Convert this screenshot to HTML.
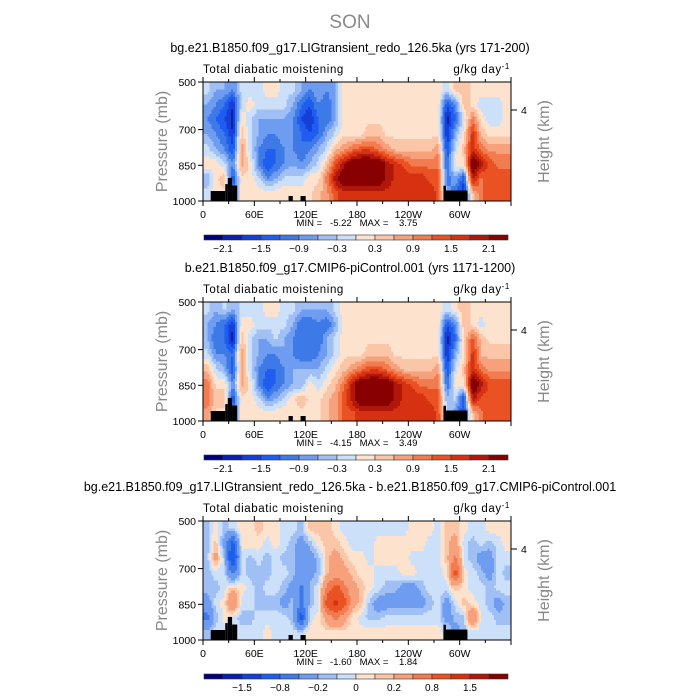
<!DOCTYPE html>
<html><head><meta charset="utf-8"><style>
html,body{margin:0;padding:0;background:#fff;}
svg{display:block;font-family:"Liberation Sans",sans-serif;}
</style></head><body>
<svg id="fig" width="700" height="700" viewBox="0 0 700 700" xmlns="http://www.w3.org/2000/svg">
<text x="350" y="28" text-anchor="middle" font-size="19" fill="#8a8a8a">SON</text>
</svg>
<script>
// ---- data ----
const lonTicks = [0,60,120,180,240,300];
const lonTickLabels = ["0","60E","120E","180","120W","60W"];
const presTicks = [500,700,850,1000];
const titles = ["bg.e21.B1850.f09_g17.LIGtransient_redo_126.5ka (yrs 171-200)",
 "b.e21.B1850.f09_g17.CMIP6-piControl.001 (yrs 1171-1200)",
 "bg.e21.B1850.f09_g17.LIGtransient_redo_126.5ka - b.e21.B1850.f09_g17.CMIP6-piControl.001"];
const minVals = ["-5.22","-4.15","-1.60"];
const maxVals = ["3.75","3.49","1.84"];
const levelsAbs = [-2.1,-1.8,-1.5,-1.2,-0.9,-0.6,-0.3,0,0.3,0.6,0.9,1.2,1.5,1.8,2.1];
const levelsDiff = [-2,-1.5,-1.2,-0.8,-0.5,-0.2,-0.1,0,0.1,0.2,0.5,0.8,1.2,1.5,2];
const cbLabelsAbs = ["-2.1","-1.5","-0.9","-0.3","0.3","0.9","1.5","2.1"];
const cbLabelsDiff = ["-1.5","-0.8","-0.2","0","0.2","0.8","1.5"];
const colors = ["#00007f","#0a1fb0","#1440d8","#1f5cf0","#3d7ae8","#6e9cf0","#9fbff5","#cde0fa",
 "#fde3cd","#fbc6a8","#f7a17c","#f27b50","#ea5223","#d63211","#b0170a","#880000"];
// topography blocks: lon start, lon end, top pressure
const topoLon0 = [9,26,29,34,100,114,281,284];
const topoLon1 = [26,29,34,40,105,120,284,309];
const topoP = [958,929,903,935,979,979,936,956];

const p1 = [
[-0.2,-0.6,-0.6,-0.9,-0.2,-0.2,-0.2,0.2,0.2,-0.2,-0.2,-0.6,-0.9,-0.6,-0.9,-0.6,0.2,0.2,0.2,0.2,0.2,0.2,0.2,0.2,0.2,0.2,0.2,0.2,-0.2,0.5,0.5,0.2,0.2,0.2,0.2,0.2],
[-0.6,-0.9,-1.2,-1.8,-0.2,0.2,-0.2,-0.2,-0.2,-0.2,-0.6,-1.2,-1.5,-0.9,-1.2,-0.6,0.2,0.2,0.2,0.2,0.2,0.2,0.2,0.2,0.2,0.2,0.2,0.2,-1.5,-0.9,0.5,0.2,-0.2,-0.2,-0.2,0.2],
[-0.9,-1.2,-1.5,-2.0,0.2,-0.2,-0.6,-0.6,-0.6,-0.6,-0.9,-1.5,-1.8,-1.2,-1.2,-0.6,0.2,0.2,0.2,0.2,0.2,0.2,0.2,0.2,0.2,0.2,0.2,0.2,-2.0,-1.2,-0.2,1.1,0.2,-0.2,-0.2,0.2],
[-0.6,-0.9,-1.2,-1.8,0.5,-0.2,-0.6,-0.9,-0.9,-0.6,-0.9,-1.2,-1.5,-1.2,-0.6,-0.2,0.2,0.2,0.2,0.5,0.5,0.2,0.2,0.2,0.2,0.2,0.2,0.2,-1.8,-0.6,0.2,1.7,0.5,0.2,0.2,0.2],
[-0.2,-0.6,-0.9,-1.5,0.8,-0.2,-0.9,-1.2,-1.2,-0.9,-0.9,-1.2,-0.9,-0.6,-0.2,0.5,0.8,1.1,1.4,1.4,1.1,0.8,0.5,0.5,0.5,0.5,0.5,0.8,-1.5,-0.2,0.5,1.7,1.1,0.8,0.8,0.8],
[0.2,0.2,-0.2,-0.9,0.8,0.2,-0.9,-1.5,-1.2,-0.9,-0.6,-0.9,-0.6,-0.2,0.5,1.4,2.0,2.6,2.6,2.6,2.6,2.0,1.7,1.4,1.1,1.1,1.1,1.1,-1.2,0.2,0.2,2.6,2.0,1.4,1.1,1.1],
[-0.6,0.2,0.5,-1.5,0.2,0.2,-0.2,-0.9,-0.6,-0.2,-0.2,-0.2,0.2,0.2,1.1,2.0,2.6,2.6,2.6,2.6,2.6,2.0,1.7,1.7,1.7,1.7,1.4,1.4,-1.2,-0.6,-1.5,2.0,1.1,1.4,1.4,1.4],
[-0.2,0.2,0.2,-1.2,0.2,0.2,0.2,0.2,0.2,0.2,0.2,0.2,0.2,0.5,0.8,1.4,1.7,1.7,1.7,1.7,1.7,1.7,1.7,1.7,1.7,1.7,1.7,1.4,-0.6,-1.2,-1.8,0.5,1.1,1.4,1.4,1.4]];
const p2 = [
[-0.2,-0.6,-0.2,-0.6,-0.2,-0.2,-0.2,0.2,0.2,-0.2,-0.2,-0.6,-0.6,-0.6,-0.6,-0.2,0.2,0.2,0.2,0.2,0.2,0.2,0.2,0.2,0.2,0.2,0.2,0.2,-0.2,0.2,0.5,0.2,0.2,0.2,0.2,0.2],
[-0.6,-0.9,-1.2,-1.8,0.2,0.2,-0.2,-0.2,-0.2,-0.2,-0.6,-1.2,-1.2,-0.9,-1.2,-0.6,0.2,0.2,0.2,0.2,0.2,0.2,0.2,0.2,0.2,0.2,0.2,0.2,-1.5,-0.9,0.5,0.2,-0.2,0.2,0.2,0.2],
[-0.6,-1.2,-1.2,-2.0,0.5,-0.2,-0.6,-0.6,-0.2,-0.6,-0.9,-1.2,-0.9,-1.2,-0.6,-0.2,0.2,0.2,0.2,0.2,0.2,0.2,0.2,0.2,0.2,0.2,0.2,0.2,-2.0,-1.2,0.2,1.4,0.5,0.2,0.2,0.2],
[-0.2,-0.9,-0.9,-1.2,0.8,-0.2,-0.6,-0.9,-0.9,-0.6,-0.9,-1.2,-1.2,-0.9,-0.6,-0.2,0.2,0.2,0.2,0.5,0.5,0.5,0.2,0.2,0.2,0.2,0.2,0.2,-1.8,-0.6,0.2,1.7,0.5,0.5,0.5,0.5],
[0.5,-0.2,-0.6,-1.5,0.8,-0.2,-0.9,-1.2,-1.2,-0.9,-0.6,-0.6,-0.6,-0.6,-0.2,0.2,0.5,0.8,1.1,1.4,1.4,1.1,0.8,0.5,0.5,0.5,0.5,0.8,-1.5,-0.2,0.5,1.7,1.1,0.8,0.8,0.8],
[1.1,0.2,0.2,-0.9,0.8,0.2,-0.9,-1.5,-1.2,-0.9,-0.6,-0.6,0.2,-0.2,0.2,0.5,1.1,2.0,2.6,2.6,2.6,2.6,2.0,1.7,1.4,1.1,1.1,1.1,-1.2,0.2,0.2,2.6,2.0,1.4,1.4,1.4],
[1.1,0.5,0.5,-1.5,0.2,0.2,-0.2,-0.9,-0.6,-0.2,0.2,0.5,0.2,0.2,0.5,0.8,1.4,2.0,2.6,2.6,2.6,2.6,2.0,1.7,1.7,1.7,1.4,1.4,-0.6,-0.2,-1.5,2.0,1.4,1.4,1.4,1.4],
[0.8,0.2,0.2,-1.2,0.2,0.2,0.2,0.2,0.2,0.2,0.2,0.2,0.2,0.2,0.5,0.8,1.4,1.4,1.7,1.7,1.7,1.7,1.7,1.7,1.7,1.7,1.7,1.4,-0.2,-0.9,-1.5,0.5,1.1,1.4,1.4,1.4]];
const p3 = [
[-0.15,0.05,-0.15,-0.05,0.05,0.05,0.15,0.05,0.05,-0.05,-0.05,-0.15,0.15,0.15,0.15,0.05,-0.05,-0.05,-0.05,-0.05,-0.05,-0.05,-0.05,-0.05,0.05,0.05,0.05,-0.05,0.15,0.15,0.05,-0.05,-0.05,0.05,0.05,0.05],
[-0.15,0.15,-0.3,-1.0,0.05,0.05,0.05,-0.05,0.05,-0.05,-0.15,-0.3,-0.15,0.05,0.15,0.15,0.05,-0.05,-0.05,-0.05,0.05,0.05,0.05,0.05,0.05,0.05,-0.05,-0.05,0.15,0.3,-0.05,-0.15,-0.05,-0.15,-0.05,0.05],
[-0.15,0.3,-0.15,-1.3,-0.05,-0.15,-0.05,-0.15,-0.05,-0.15,-0.15,-0.3,-0.3,-0.15,0.15,0.3,0.15,0.05,0.05,-0.05,0.05,0.05,0.05,0.05,-0.05,-0.05,-0.05,-0.05,0.15,0.6,-0.05,-0.15,-0.3,-0.3,-0.05,-0.05],
[-0.15,-0.05,-0.05,-0.6,-0.05,-0.15,-0.15,-0.15,-0.05,-0.05,-0.15,-0.3,-0.3,-0.15,0.15,0.3,0.3,0.15,0.05,0.05,-0.05,-0.05,-0.05,0.05,0.05,-0.05,-0.05,-0.05,0.05,1.0,0.05,-0.05,-0.15,-0.3,-0.05,-0.15],
[-0.15,-0.15,-0.05,0.15,0.05,-0.05,-0.15,-0.05,-0.05,-0.15,-0.3,-0.6,-0.15,-0.05,0.6,1.0,0.6,0.3,0.15,0.05,-0.05,-0.15,-0.15,-0.3,-0.3,-0.15,-0.05,-0.05,-0.05,0.15,0.05,-0.05,-0.05,-0.15,-0.05,-0.05],
[-0.3,-0.05,0.05,0.6,-0.05,-0.05,-0.15,-0.15,-0.15,-0.3,-0.15,-0.6,-0.15,-0.05,1.0,1.3,1.0,0.3,0.15,-0.15,-0.3,-0.3,-0.3,-0.3,-0.3,-0.3,-0.15,-0.05,-0.3,-0.05,0.15,0.05,-0.05,-0.15,-0.3,-0.15],
[-0.6,-0.15,0.05,-0.05,-0.15,-0.15,-0.05,-0.05,-0.05,-0.05,-0.15,-1.0,-0.05,0.05,0.3,0.6,0.3,0.05,-0.05,-0.15,-0.15,-0.05,-0.05,-0.05,-0.05,-0.05,-0.05,-0.05,-0.3,-0.15,-0.15,0.6,-0.05,-0.05,-0.15,-0.15],
[-0.15,-0.05,-0.05,-0.05,-0.05,-0.05,-0.05,0.05,-0.05,-0.05,-0.05,-0.05,0.05,0.05,0.05,0.05,0.05,0.05,0.05,0.05,0.05,0.05,0.05,0.05,0.05,0.05,0.05,0.05,-0.05,-0.3,-0.15,-0.05,-0.05,-0.05,-0.05,-0.05]];
const panelData = [p1,p2,p3];

// ---- rendering ----
const NS = "http://www.w3.org/2000/svg";
const svg = document.getElementById("fig");
const X0 = 203, X1 = 511, PT = 82, PH = 119;
const offsets = [0,220,439];
function xScale(lon){ return X0 + lon/360*(X1-X0); }
function el(tag, attrs, parent){ const e=document.createElementNS(NS,tag); for(const k in attrs) e.setAttribute(k,attrs[k]); (parent||svg).appendChild(e); return e; }
function levelIndex(v, lev){ let i=0; for(const b of lev){ if(v >= b - 1e-9) i++; } return Math.min(i,15); }
function txt(x,y,s,size,attrs,parent){ const t=el("text",Object.assign({x:x,y:y,"font-size":size},attrs||{}),parent); t.textContent=s; return t; }
function sample(data, fr, fc){
  const nr=data.length, nc=data[0].length;
  let r=fr-0.5, c=fc-0.5;
  r=Math.max(0,Math.min(nr-1,r)); c=Math.max(0,Math.min(nc-1,c));
  const r0=Math.floor(r), c0=Math.floor(c), r1=Math.min(nr-1,r0+1), c1=Math.min(nc-1,c0+1);
  const a=r-r0, b=c-c0;
  return (1-a)*((1-b)*data[r0][c0]+b*data[r0][c1]) + a*((1-b)*data[r1][c0]+b*data[r1][c1]);
}

panelData.forEach((data,pi)=>{
  const off = offsets[pi];
  const top = PT+off;
  const yScale = p => top + (p-500)/500*PH;
  const lev = pi===2 ? levelsDiff : levelsAbs;
  const g = el("g",{});
  
  
  const t = txt(350, 52+off, titles[pi], 12.5, {"text-anchor":"middle"}, g);
  
  
  const lt = txt(203, 73+off, "Total diabatic moistening", 11.5, {"letter-spacing":"0.6"}, g);
  
  
  const ut = el("text",{x:510,y:73+off,"font-size":11.5,"text-anchor":"end","letter-spacing":"0.6"},g);
  ut.innerHTML = 'g/kg day<tspan dy="-4" font-size="8">-1</tspan>';
  
  
  // smooth field rendered from the data grid
  const nr = data.length, nc = data[0].length;
  const cg = el("g",{"shape-rendering":"crispEdges"},g);
  
  
  const SX = 4, SY = 6;
  const W = (X1-X0)/(nc*SX), H = PH/(nr*SY);
  for(let j=0;j<nr*SY;j++){
    const fr=(j+0.5)/SY;
    let runStart=0, runCol=-1;
    for(let i=0;i<=nc*SX;i++){
      const ci = i<nc*SX ? levelIndex(sample(data, fr, (i+0.5)/SX), lev) : -2;
      if(ci!==runCol){
        if(runCol>=0){
          const rc = el("rect",{x:X0+runStart*W,y:top+j*H,width:(i-runStart)*W+0.4,height:H+0.4,fill:colors[runCol]},cg);
          
          
        }
        runStart=i; runCol=ci;
      }
    }
  }
  // topography
  for(let i=0;i<topoP.length;i++){
    const tr = el("rect",{x:xScale(topoLon0[i]),y:yScale(topoP[i]),width:xScale(topoLon1[i])-xScale(topoLon0[i]),height:yScale(1000)-yScale(topoP[i]),fill:"#000"},g);
    
    
  }
  const fr = el("rect",{x:X0,y:top,width:X1-X0,height:PH,fill:"none",stroke:"#000","stroke-width":1},g);
  
  
  for(let lon=0;lon<=360;lon+=30){
    const x=xScale(lon), major = lon%60===0;
    el("line",{x1:x,x2:x,y1:top+PH,y2:top+PH+(major?5:3),stroke:"#000"},g);
    el("line",{x1:x,x2:x,y1:top,y2:top-(major?5:3),stroke:"#000"},g);
  }
  lonTicks.forEach((lon,i)=>{
    const tl = txt(xScale(lon), top+PH+17, lonTickLabels[i], 10.5, {"text-anchor":"middle"}, g);
    
    
  });
  presTicks.forEach(p=>{
    el("line",{x1:X0-5,x2:X0,y1:yScale(p),y2:yScale(p),stroke:"#000"},g);
    const yl = txt(X0-7, yScale(p)+4, String(p), 10.5, {"text-anchor":"end"}, g);
    
    
  });
  el("line",{x1:X1,x2:X1+6,y1:top+28,y2:top+28,stroke:"#000"},g);
  const r4 = txt(X1+10, top+32, "4", 10.5, {}, g);
  
  
  const yt = txt(0,0,"Pressure (mb)",16,{fill:"#888","text-anchor":"middle",transform:`translate(167,${top+PH/2}) rotate(-90)`},g);
  
  
  const rt = txt(0,0,"Height (km)",16,{fill:"#888","text-anchor":"middle",transform:`translate(549,${top+PH/2}) rotate(-90)`},g);
  
  
  const mm = txt(357, top+PH+25, "MIN =   "+minVals[pi]+"   MAX =    "+maxVals[pi], 9.5, {"text-anchor":"middle","style":"white-space:pre"}, g);
  
  
  const cbY = top+PH+34, cbX=204, bw=19;
  const cb = el("g",{},g);
  
  
  colors.forEach((c,i)=>{
    const b = el("rect",{x:cbX+i*bw,y:cbY,width:bw,height:5,fill:c,stroke:"#333","stroke-width":0.6},cb);
    
    
  });
  const labs = pi===2 ? cbLabelsDiff : cbLabelsAbs;
  const start = pi===2 ? 2 : 1;
  labs.forEach((s,i)=>{
    const cl = txt(cbX+(start+2*i)*bw, cbY+17, s.replace("-","\u2212"), 10, {"text-anchor":"middle"}, cb);
    
    
  });
});
</script>
</body></html>
